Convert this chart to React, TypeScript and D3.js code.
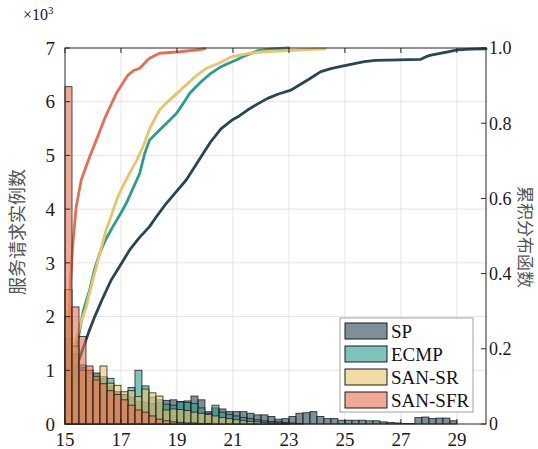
import React from 'react';
import * as d3 from 'd3';

const width = 538;
const height = 449;
const left = 65, right = 486, top = 48, bottom = 424;

const SERIES = ['SP', 'ECMP', 'SAN-SR', 'SAN-SFR'];
const COLORS = ['#264653', '#2a9d8f', '#e9c46a', '#e76f51'];

// histogram: bins of 0.25 starting at 15, counts in thousands
const BIN_START = 15;
const BIN_WIDTH = 0.25;

const SP_HIST = [1.6, 1.1, 1.05, 1.0, 0.95, 0.85, 0.7, 0.6, 0.55, 0.5,
  0.42, 0.4, 0.38, 0.4, 0.44, 0.45, 0.42, 0.43, 0.52, 0.45,
  0.23, 0.3, 0.28, 0.23, 0.23, 0.23, 0.2, 0.17, 0.17, 0.14,
  0.09, 0.1, 0.14, 0.2, 0.21, 0.23, 0.14, 0.1, 0.1, 0.07,
  0.07, 0.07, 0.07, 0.06, 0.06, 0.04, 0.03, 0.02, 0.01, 0.01,
  0.12, 0.13, 0.1, 0.11, 0.11, 0.06, 0, 0, 0, 0];
const ECMP_HIST = [2.0, 1.3, 1.1, 0.95, 0.85, 0.88, 0.85, 0.6, 0.55, 0.68,
  1.0, 0.71, 0.5, 0.45, 0.37, 0.35, 0.41, 0.4, 0.38, 0.3,
  0.2, 0.35, 0.22, 0.18, 0.15, 0.12, 0.1, 0.08, 0.06, 0.05,
  0.04, 0.03, 0.02, 0.01];
const SANSR_HIST = [2.5, 1.45, 1.0, 1.0, 0.88, 1.08, 0.76, 0.72, 0.6, 0.62,
  0.51, 0.65, 0.58, 0.52, 0.26, 0.28, 0.27, 0.25, 0.22, 0.2,
  0.18, 0.15, 0.12, 0.1, 0.08, 0.06, 0.05, 0.04, 0.03, 0.02,
  0.02, 0.01];
const SANSFR_HIST = [6.28, 2.18, 1.63, 1.08, 0.82, 0.75, 0.62, 0.55, 0.45, 0.35,
  0.26, 0.22, 0.15, 0.09, 0.06, 0.04, 0.03, 0.02, 0.02, 0.01, 0.01];

// CDF curves [x, F(x)]
const SP_CDF = [[15.05, 0.06], [15.17, 0.096], [15.4, 0.15], [15.64, 0.2], [15.85, 0.245], [16.06, 0.285],
  [16.35, 0.335], [16.65, 0.383], [17.0, 0.425], [17.31, 0.463], [17.65, 0.495], [18.02, 0.525],
  [18.3, 0.555], [18.62, 0.587], [19.0, 0.62], [19.33, 0.649], [19.6, 0.68], [19.86, 0.711],
  [20.2, 0.75], [20.57, 0.785], [21.0, 0.81], [21.24, 0.82], [21.52, 0.835], [21.9, 0.852],
  [22.24, 0.866], [22.6, 0.877], [23.07, 0.888], [23.4, 0.903], [23.67, 0.915], [24.14, 0.937],
  [24.5, 0.945], [24.86, 0.951], [25.3, 0.958], [25.69, 0.964], [26.1, 0.967], [26.52, 0.968],
  [27.71, 0.97], [27.9, 0.977], [28.07, 0.981], [28.4, 0.986], [28.67, 0.99], [29.02, 0.995],
  [29.5, 0.997], [30.04, 0.998]];
const ECMP_CDF = [[15.05, 0.07], [15.17, 0.1], [15.46, 0.223], [15.65, 0.3], [15.88, 0.356], [16.05, 0.41],
  [16.24, 0.454], [16.45, 0.49], [16.71, 0.525], [16.95, 0.555], [17.19, 0.587], [17.45, 0.63],
  [17.67, 0.667], [17.85, 0.72], [18.02, 0.755], [18.38, 0.782], [18.7, 0.805], [18.98, 0.826],
  [19.2, 0.85], [19.45, 0.879], [19.7, 0.898], [19.93, 0.915], [20.2, 0.932], [20.52, 0.948],
  [20.8, 0.958], [21.12, 0.968], [21.35, 0.977], [21.6, 0.984], [21.9, 0.993], [22.3, 0.997], [23.0, 1.0]];
const SANSR_CDF = [[15.05, 0.07], [15.14, 0.11], [15.39, 0.22], [15.55, 0.265], [15.76, 0.312], [15.95, 0.37],
  [16.12, 0.418], [16.3, 0.47], [16.47, 0.516], [16.68, 0.56], [16.89, 0.605], [17.1, 0.637],
  [17.31, 0.667], [17.55, 0.7], [17.79, 0.738], [18.05, 0.79], [18.38, 0.835], [18.6, 0.852],
  [18.86, 0.87], [19.15, 0.89], [19.45, 0.91], [19.75, 0.93], [20.05, 0.946], [20.52, 0.96],
  [20.9, 0.975], [21.24, 0.981], [21.6, 0.986], [22.07, 0.99], [23.0, 0.993], [23.7, 0.996], [24.3, 0.998]];
const SANSFR_CDF = [[15.03, 0.06], [15.08, 0.15], [15.13, 0.22], [15.2, 0.38], [15.27, 0.47], [15.4, 0.578],
  [15.58, 0.649], [15.88, 0.711], [16.12, 0.755], [16.42, 0.813], [16.83, 0.879], [17.05, 0.905],
  [17.25, 0.928], [17.45, 0.94], [17.67, 0.946], [18.02, 0.973], [18.38, 0.986], [19.1, 0.99],
  [19.6, 0.994], [20.0, 0.998]];

const X_TICKS = [15, 17, 19, 21, 23, 25, 27, 29];
const YL_TICKS = [0, 1, 2, 3, 4, 5, 6, 7];
const YR_TICKS = [0, 0.2, 0.4, 0.6, 0.8, 1.0];
const YR_LABELS = ['0', '0.2', '0.4', '0.6', '0.8', '1.0'];

const HISTS = [SP_HIST, ECMP_HIST, SANSR_HIST, SANSFR_HIST];
const CDFS = [SP_CDF, ECMP_CDF, SANSR_CDF, SANSFR_CDF];

const serif = '"Liberation Serif", "Times New Roman", serif';
const cjk = '"Noto Sans CJK SC", sans-serif';

export default function App() {
  const x = d3.scaleLinear().domain([15, 30.04]).range([left, right]);
  const yL = d3.scaleLinear().domain([0, 7]).range([bottom, top]);
  const yR = d3.scaleLinear().domain([0, 1]).range([bottom, top]);

  const line = d3.line<number[]>()
    .x(d => x(d[0]))
    .y(d => yR(d[1]));

  return (
    <svg width={width} height={height} style={{position: 'absolute', left: 0, top: 0, background: '#fff'}}>
      {/* grid */}
      {X_TICKS.slice(1).map(t => (
        <line key={'gx' + t} x1={x(t)} x2={x(t)} y1={top} y2={bottom} stroke="#e4e4e4" strokeWidth={1} />
      ))}
      {YL_TICKS.slice(1, -1).map(t => (
        <line key={'gy' + t} x1={left} x2={right} y1={yL(t)} y2={yL(t)} stroke="#e4e4e4" strokeWidth={1} />
      ))}

      {/* cdf lines (under the bars) */}
      {CDFS.map((c, i) => (
        <path key={'l' + i} d={line(c) || ''} fill="none" stroke={COLORS[i]} strokeWidth={2.8}
              strokeLinejoin="round" strokeLinecap="round" />
      ))}

      {/* histograms */}
      {HISTS.map((h, s) => (
        <g key={'h' + s}>
          {h.map((v, i) => {
            if (v <= 0) return null;
            const x0 = x(BIN_START + i * BIN_WIDTH);
            const x1 = x(BIN_START + (i + 1) * BIN_WIDTH);
            return <rect key={i} x={x0} width={x1 - x0} y={yL(v)} height={yL(0) - yL(v)}
                         fill={COLORS[s]} fillOpacity={0.6} stroke="#1a1a1a" strokeWidth={0.9} strokeOpacity={0.85} />;
          })}
        </g>
      ))}

      {/* box */}
      <rect x={left} y={top} width={right - left} height={bottom - top} fill="none" stroke="#262626" strokeWidth={1} />

      {/* x ticks */}
      {X_TICKS.map(t => (
        <g key={'xt' + t}>
          <line x1={x(t)} x2={x(t)} y1={bottom} y2={bottom - 5} stroke="#262626" />
          <line x1={x(t)} x2={x(t)} y1={top} y2={top + 5} stroke="#262626" />
          <text x={x(t)} y={446} textAnchor="middle" fontFamily={serif} fontSize={19} fill="#1a1a1a">{t}</text>
        </g>
      ))}
      {/* left ticks */}
      {YL_TICKS.map(t => (
        <g key={'yl' + t}>
          <line x1={left} x2={left + 5} y1={yL(t)} y2={yL(t)} stroke="#262626" />
          <text x={55} y={yL(t)} dy="0.35em" textAnchor="end" fontFamily={serif} fontSize={19} fill="#1a1a1a">{t}</text>
        </g>
      ))}
      {/* right ticks */}
      {YR_TICKS.map((t, i) => (
        <g key={'yr' + t}>
          <line x1={right} x2={right - 5} y1={yR(t)} y2={yR(t)} stroke="#262626" />
          <text x={489} y={yR(t)} dy="0.35em" textAnchor="start" fontFamily={serif} fontSize={18} fill="#1a1a1a">{YR_LABELS[i]}</text>
        </g>
      ))}

      {/* exponent */}
      <text x={23} y={20} fontFamily={serif} fontSize={16} fill="#1a1a1a">
        ×10<tspan dy={-6} fontSize={11}>3</tspan>
      </text>

      {/* axis titles */}
      <text transform="translate(24,232) rotate(-90)" textAnchor="middle" fontFamily={cjk} fontSize={18} fill="#555">服务请求实例数</text>
      <text transform="translate(519,237) rotate(90)" textAnchor="middle" fontFamily={cjk} fontSize={17} fill="#555">累积分布函数</text>

      {/* legend */}
      <rect x={340} y={318} width={133} height={94} fill="#fff" stroke="#a0a0a0" strokeWidth={1} />
      {SERIES.map((s, i) => (
        <g key={'lg' + s}>
          <rect x={345} y={323 + i * 23} width={42} height={16} fill={COLORS[i]} fillOpacity={0.6}
                stroke="#1a1a1a" strokeWidth={1} />
          <text x={391} y={331 + i * 23} dy="0.35em" fontFamily={serif} fontSize={19} fill="#111">{s}</text>
        </g>
      ))}
    </svg>
  );
}
